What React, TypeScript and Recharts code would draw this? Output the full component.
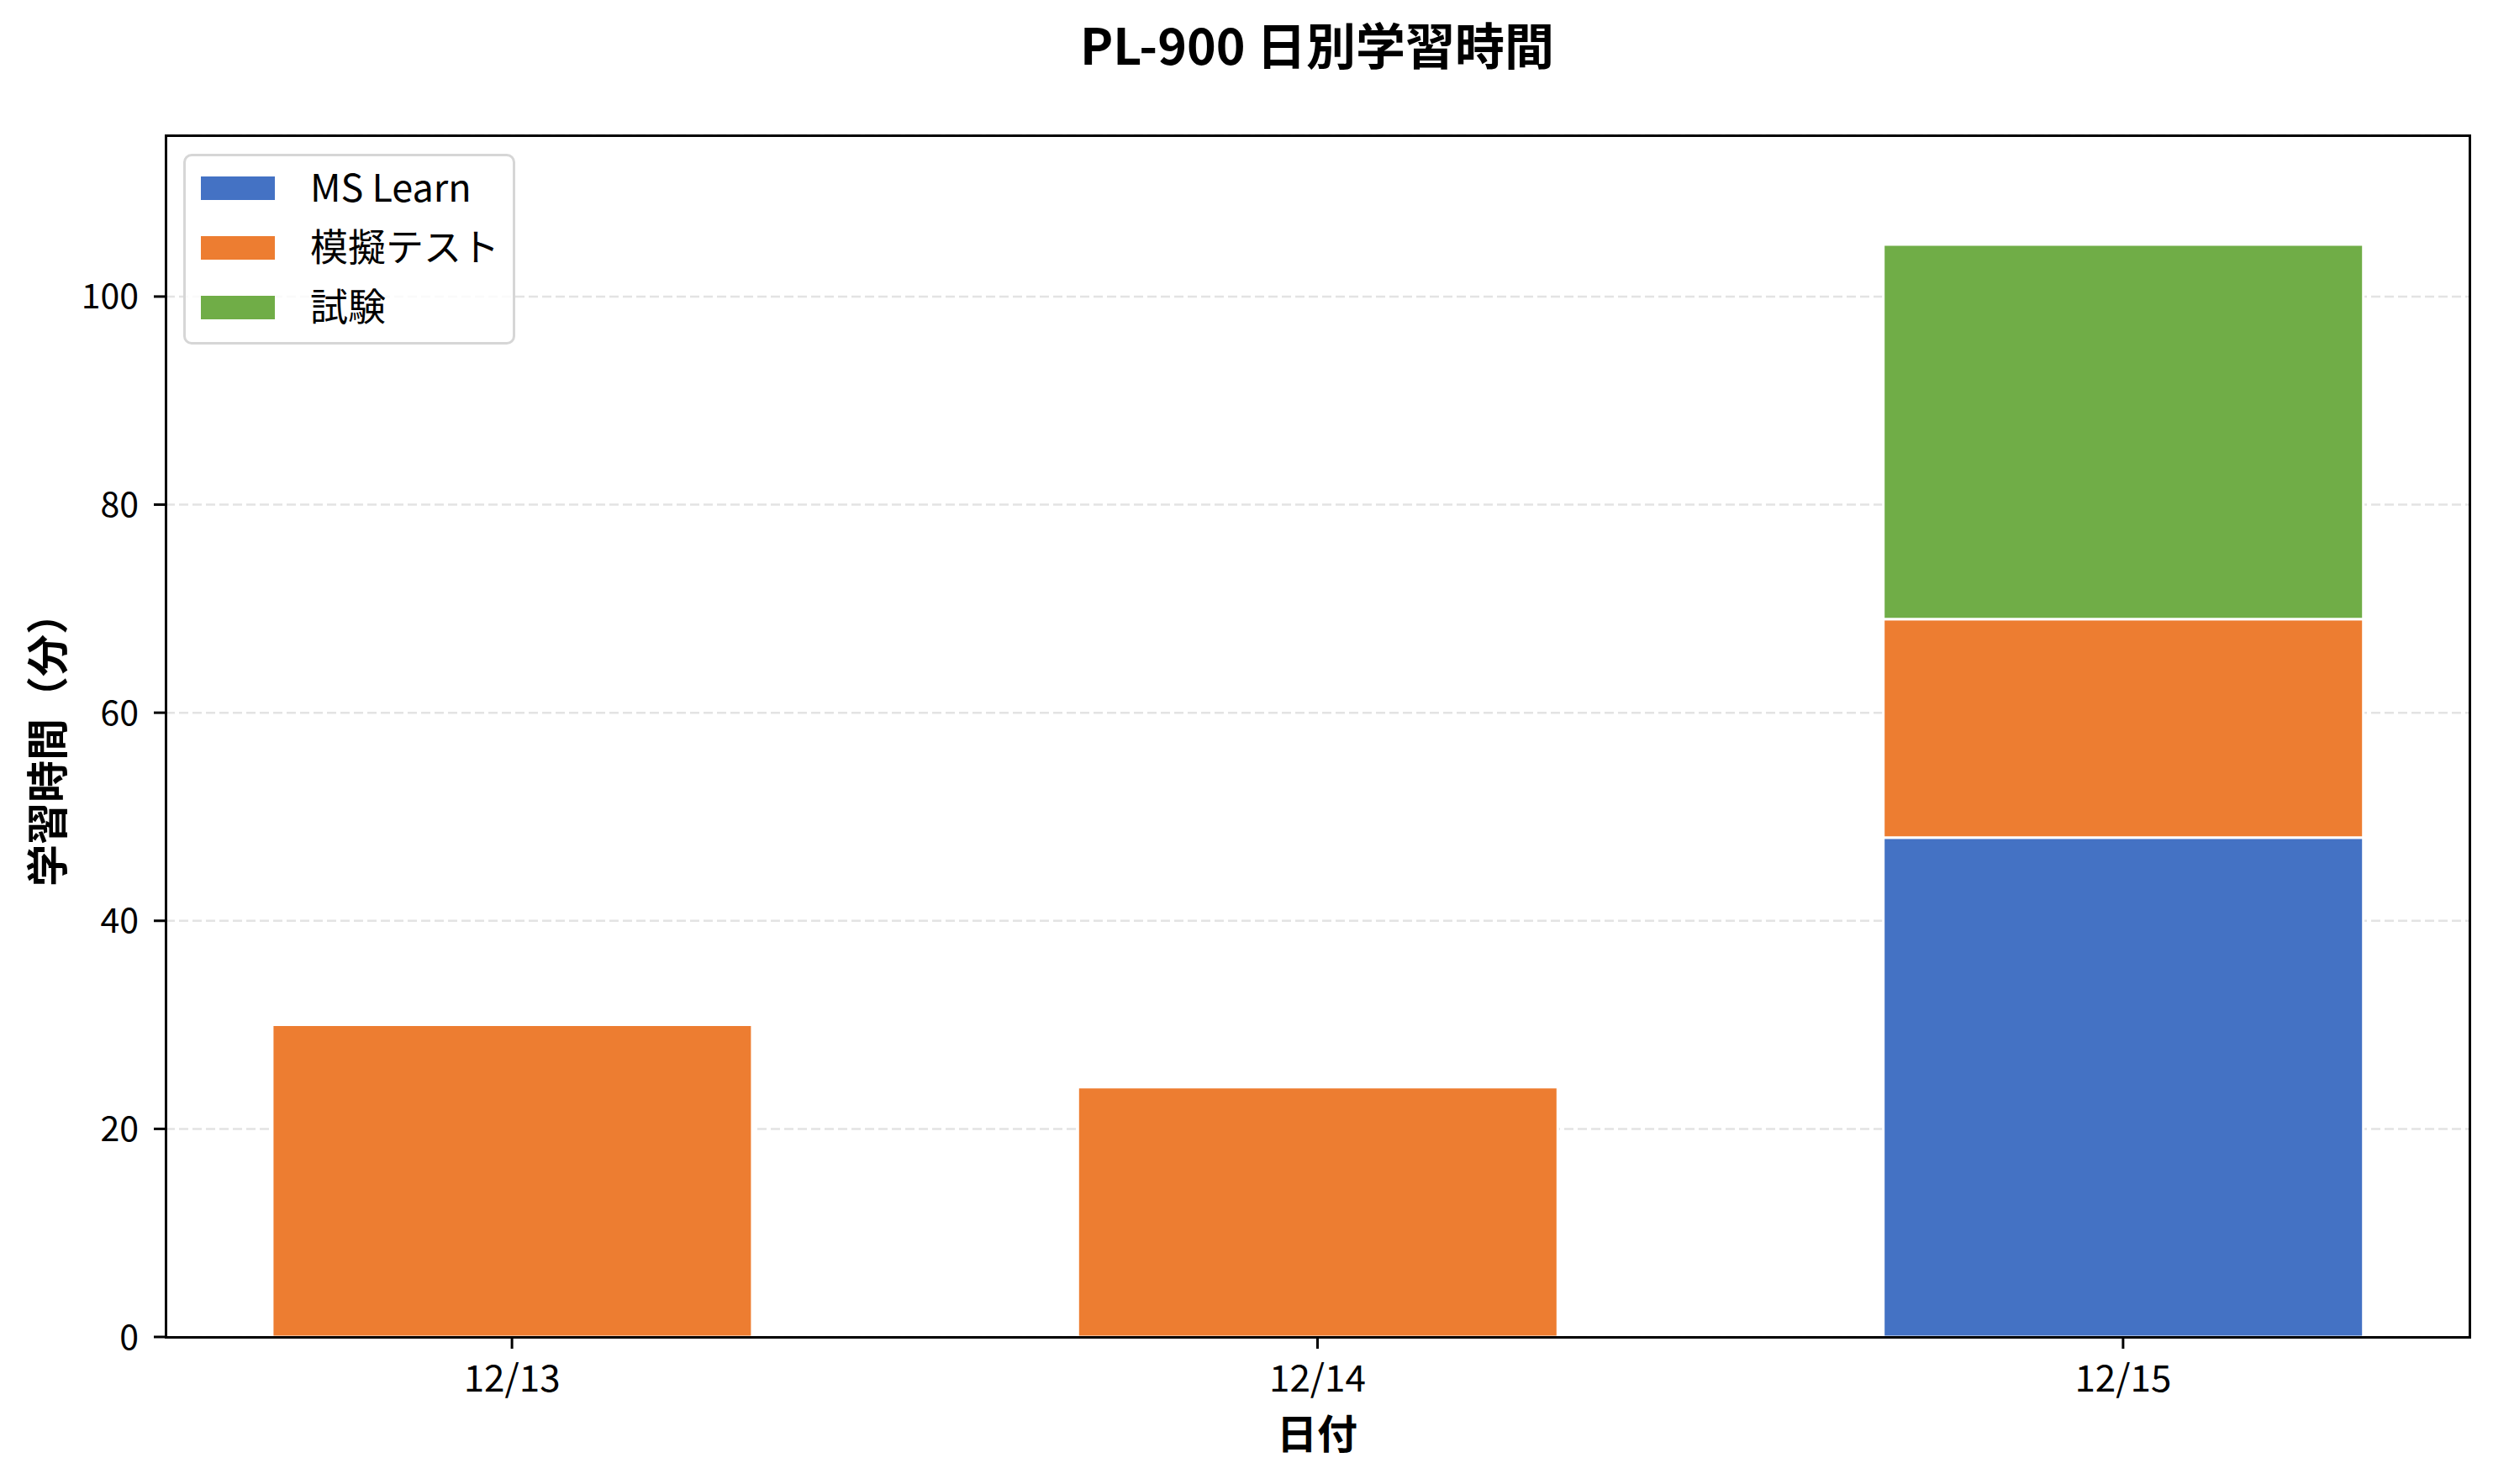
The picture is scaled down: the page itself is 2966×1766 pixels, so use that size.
import React from 'react';
import { BarChart, Bar, XAxis, YAxis, CartesianGrid, Legend } from 'recharts';

const dates = ['12/13', '12/14', '12/15'];
const msLearn = [0, 0, 48];
const mockTest = [30, 24, 21];
const exam = [0, 0, 36];
const yTicks = [0, 20, 40, 60, 80, 100];

const seriesNames = ['MS Learn', '模擬テスト', '試験'];
const seriesColors = ['#4472C4', '#ED7D31', '#70AD47'];

const data = dates.map((d, i) => ({
  idx: i,
  date: d,
  msLearn: msLearn[i],
  mockTest: mockTest[i],
  exam: exam[i],
}));

const FONT = '"Noto Sans CJK JP", "Noto Sans", sans-serif';

const LegendBox = ({ payload }: any) => (
  <div
    style={{
      boxSizing: 'border-box',
      width: 395,
      height: 227,
      border: '3px solid #d6d6d6',
      borderRadius: 10,
      background: 'rgba(255,255,255,0.8)',
      paddingTop: 2,
      fontFamily: FONT,
    }}
  >
    {(payload || []).map((entry: any) => (
      <div key={entry.value} style={{ display: 'flex', alignItems: 'center', height: 71 }}>
        <div style={{ width: 88, height: 28, marginLeft: 18, background: entry.color }} />
        <span style={{ marginLeft: 42, fontSize: 45, lineHeight: 1, color: '#000', position: 'relative', top: -3 }}>
          {entry.value}
        </span>
      </div>
    ))}
  </div>
);

export default function App() {
  return (
    <div style={{ position: 'absolute', left: 0, top: 0, width: 2966, height: 1766, background: '#fff', fontFamily: FONT }}>
      <BarChart
        width={2966}
        height={1766}
        data={data}
        margin={{ top: 161, right: 28, bottom: 115, left: 77 }}
      >
        <CartesianGrid vertical={false} stroke="#e3e3e3" strokeWidth={2.5} strokeDasharray="11 5" />
        <XAxis
          dataKey="idx"
          type="number"
          domain={[-0.43, 2.43]}
          ticks={[0, 1, 2]}
          tickFormatter={(v: number) => dates[v]}
          height={60}
          axisLine={false}
          tickLine={{ stroke: '#000', strokeWidth: 3 }}
          tickSize={14}
          tickMargin={20}
          tick={{ fontSize: 44, fill: '#000', fontFamily: FONT }}
          interval={0}
        />
        <YAxis
          domain={[0, 115.5]}
          ticks={yTicks}
          width={120}
          axisLine={false}
          tickLine={{ stroke: '#000', strokeWidth: 3 }}
          tickSize={14}
          tickMargin={18}
          tick={{ fontSize: 41, fill: '#000', fontFamily: FONT }}
          interval={0}
        />
        <Legend
          layout="vertical"
          align="center"
          verticalAlign="middle"
          content={<LegendBox />}
          wrapperStyle={{ position: 'absolute', left: 218, top: 183, width: 395, height: 227 }}
        />
        <Bar dataKey="msLearn" name={seriesNames[0]} stackId="a" fill={seriesColors[0]} stroke="#fff" strokeWidth={3} barSize={571} isAnimationActive={false} />
        <Bar dataKey="mockTest" name={seriesNames[1]} stackId="a" fill={seriesColors[1]} stroke="#fff" strokeWidth={3} barSize={571} isAnimationActive={false} />
        <Bar dataKey="exam" name={seriesNames[2]} stackId="a" fill={seriesColors[2]} stroke="#fff" strokeWidth={3} barSize={571} isAnimationActive={false} />
      </BarChart>

      {/* axes frame (all four spines) */}
      <div
        style={{
          position: 'absolute',
          left: 195.5,
          top: 159.5,
          width: 2744,
          height: 1433,
          boxSizing: 'border-box',
          border: '3px solid #000',
          pointerEvents: 'none',
        }}
      />

      <svg width={2966} height={1766} style={{ position: 'absolute', left: 0, top: 0, pointerEvents: 'none' }}>
        <text x={1567} y={77} textAnchor="middle" fontSize={59} fontWeight="bold" fill="#000" fontFamily={FONT}>
          PL-900 日別学習時間
        </text>
        <text x={1567} y={1724} textAnchor="middle" fontSize={48} fontWeight="bold" fill="#000" fontFamily={FONT}>
          日付
        </text>
        <text
          x={75}
          y={880}
          textAnchor="middle"
          fontSize={50}
          fontWeight="bold"
          fill="#000"
          fontFamily={FONT}
          transform="rotate(-90 75 880)"
        >
          学習時間（分）
        </text>
      </svg>
    </div>
  );
}
